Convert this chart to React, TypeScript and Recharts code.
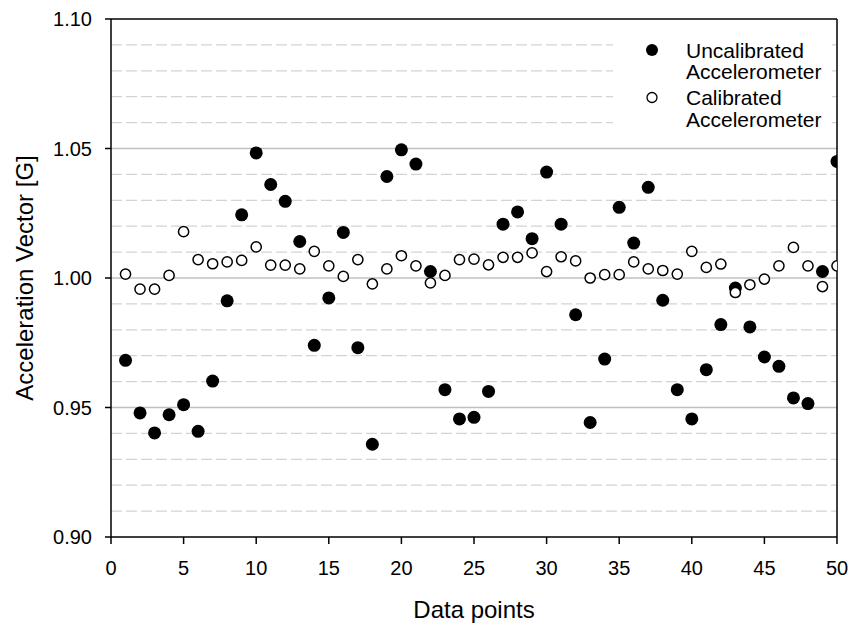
import React from "react";
import {
  ScatterChart,
  Scatter,
  XAxis,
  YAxis,
  ReferenceLine,
  Legend,
  Label,
} from "recharts";

const dataPoints = [
  1, 2, 3, 4, 5, 6, 7, 8, 9, 10, 11, 12, 13, 14, 15, 16, 17, 18, 19, 20, 21, 22, 23, 24, 25,
  26, 27, 28, 29, 30, 31, 32, 33, 34, 35, 36, 37, 38, 39, 40, 41, 42, 43, 44, 45, 46, 47, 48, 49, 50,
];

const uncalibrated = [
  0.9682, 0.9479, 0.9402, 0.9472, 0.9511, 0.9408, 0.9602, 0.9912, 1.0244, 1.0483,
  1.0361, 1.0296, 1.0141, 0.974, 0.9923, 1.0176, 0.9731, 0.9358, 1.0392, 1.0495,
  1.044, 1.0025, 0.9569, 0.9456, 0.9462, 0.9562, 1.0208, 1.0255, 1.0152, 1.0409,
  1.0208, 0.9858, 0.9442, 0.9687, 1.0273, 1.0135, 1.035, 0.9914, 0.9569, 0.9456,
  0.9646, 0.982, 0.9961, 0.9811, 0.9695, 0.9659, 0.9537, 0.9515, 1.0025, 1.045,
];

const calibrated = [
  1.0015, 0.9957, 0.9957, 1.001, 1.0179, 1.0071, 1.0055, 1.0062, 1.0068, 1.012,
  1.005, 1.005, 1.0035, 1.0103, 1.0047, 1.0006, 1.0071, 0.9977, 1.0035, 1.0086,
  1.0047, 0.9981, 1.001, 1.0071, 1.0073, 1.0051, 1.008, 1.008, 1.0097, 1.0025,
  1.0082, 1.0066, 1.0, 1.0013, 1.0013, 1.0062, 1.0035, 1.0029, 1.0015, 1.0103,
  1.0041, 1.0054, 0.9944, 0.9974, 0.9996, 1.0047, 1.0118, 1.0047, 0.9967, 1.0047,
];

const xTicks = [0, 5, 10, 15, 20, 25, 30, 35, 40, 45, 50];
const yTicks = [0.9, 0.95, 1.0, 1.05, 1.1];
const majorGrid = [0.95, 1.0, 1.05];
const minorGrid = [
  0.91, 0.92, 0.93, 0.94, 0.96, 0.97, 0.98, 0.99, 1.01, 1.02, 1.03, 1.04, 1.06, 1.07, 1.08, 1.09,
];

const seriesNames = ["Uncalibrated Accelerometer", "Calibrated Accelerometer"];

const uncalData = dataPoints.map((x, i) => ({ x, y: uncalibrated[i] }));
const calData = dataPoints.map((x, i) => ({ x, y: calibrated[i] }));

const FONT = "'Liberation Sans', Arial, sans-serif";

const FilledDot = (props: any) => {
  const { cx, cy } = props;
  if (cx == null || cy == null) return null;
  return <circle cx={cx} cy={cy} r={6.5} fill="#000" />;
};

const OpenDot = (props: any) => {
  const { cx, cy } = props;
  if (cx == null || cy == null) return null;
  return <circle cx={cx} cy={cy} r={5.1} fill="#fff" stroke="#000" strokeWidth={1.5} />;
};

const LegendContent = () => {
  const lineH = 21.7;
  const itemTop = [30, 77.5];
  return (
    <svg width={219} height={120} style={{ display: "block" }}>
      <rect x={0} y={0} width={219} height={120} fill="#fff" />
      {seriesNames.map((name, i) => {
        const words = name.split(" ");
        const cy = itemTop[i];
        return (
          <g key={name}>
            {i === 0 ? (
              <circle cx={39} cy={cy} r={6} fill="#000" />
            ) : (
              <circle cx={39} cy={cy} r={5} fill="#fff" stroke="#000" strokeWidth={1.3} />
            )}
            {words.map((w, j) => (
              <text
                key={j}
                x={73}
                y={cy + j * lineH}
                dominantBaseline="central"
                fontSize={21}
                fontFamily={FONT}
                fill="#000"
              >
                {w}
              </text>
            ))}
          </g>
        );
      })}
    </svg>
  );
};

export default function App() {
  return (
    <div style={{ position: "absolute", left: 0, top: 0, width: 850, height: 625, background: "#fff" }}>
      <ScatterChart
        width={850}
        height={625}
        margin={{ top: 19, right: 13, left: 0, bottom: 0 }}
        style={{ fontFamily: FONT }}
      >
        {minorGrid.map((v) => (
          <ReferenceLine
            key={"mn" + v}
            y={v}
            stroke="#d3d3d3"
            strokeWidth={1.3}
            strokeDasharray="11 4"
          />
        ))}
        {majorGrid.map((v) => (
          <ReferenceLine key={"mj" + v} y={v} stroke="#c0c0c0" strokeWidth={1.5} />
        ))}
        <ReferenceLine y={1.1} stroke="#000" strokeWidth={1.5} />
        <ReferenceLine x={50} stroke="#000" strokeWidth={1.5} />
        <XAxis
          type="number"
          dataKey="x"
          domain={[0, 50]}
          ticks={xTicks}
          interval={0}
          height={88}
          tickSize={7}
          tickMargin={17}
          axisLine={{ stroke: "#000", strokeWidth: 1.5 }}
          tickLine={{ stroke: "#000", strokeWidth: 1.5 }}
          tick={{ fill: "#000", fontSize: 20, fontFamily: FONT }}
          allowDataOverflow
        >
          <Label
            content={(p: any) => {
              const vb = p.viewBox || {};
              return (
                <text
                  x={vb.x + vb.width / 2}
                  y={609}
                  textAnchor="middle"
                  dominantBaseline="central"
                  fontSize={24}
                  fontFamily={FONT}
                  fill="#000"
                >
                  Data points
                </text>
              );
            }}
          />
        </XAxis>
        <YAxis
          type="number"
          dataKey="y"
          domain={[0.9, 1.1]}
          ticks={yTicks}
          interval={0}
          width={111}
          tickSize={6}
          tickMargin={13}
          tickFormatter={(v: number) => v.toFixed(2)}
          axisLine={{ stroke: "#000", strokeWidth: 1.5 }}
          tickLine={{ stroke: "#000", strokeWidth: 1.5 }}
          tick={{ fill: "#000", fontSize: 20, fontFamily: FONT }}
          allowDataOverflow
        >
          <Label
            content={(p: any) => {
              const vb = p.viewBox || {};
              const cx = 24;
              const cy = vb.y + vb.height / 2;
              return (
                <text
                  x={cx}
                  y={cy}
                  transform={`rotate(-90 ${cx} ${cy})`}
                  textAnchor="middle"
                  dominantBaseline="central"
                  fontSize={24}
                  fontFamily={FONT}
                  fill="#000"
                >
                  Acceleration Vector [G]
                </text>
              );
            }}
          />
        </YAxis>
        <Legend
          layout="vertical"
          align="center"
          verticalAlign="middle"
          width={219}
          wrapperStyle={{ left: 613, top: 20, width: 219, height: 120 }}
          content={() => <LegendContent />}
        />
        <Scatter
          name={seriesNames[0]}
          data={uncalData}
          shape={FilledDot}
          fill="#000"
          isAnimationActive={false}
        />
        <Scatter
          name={seriesNames[1]}
          data={calData}
          shape={OpenDot}
          fill="#fff"
          isAnimationActive={false}
        />
      </ScatterChart>
    </div>
  );
}
